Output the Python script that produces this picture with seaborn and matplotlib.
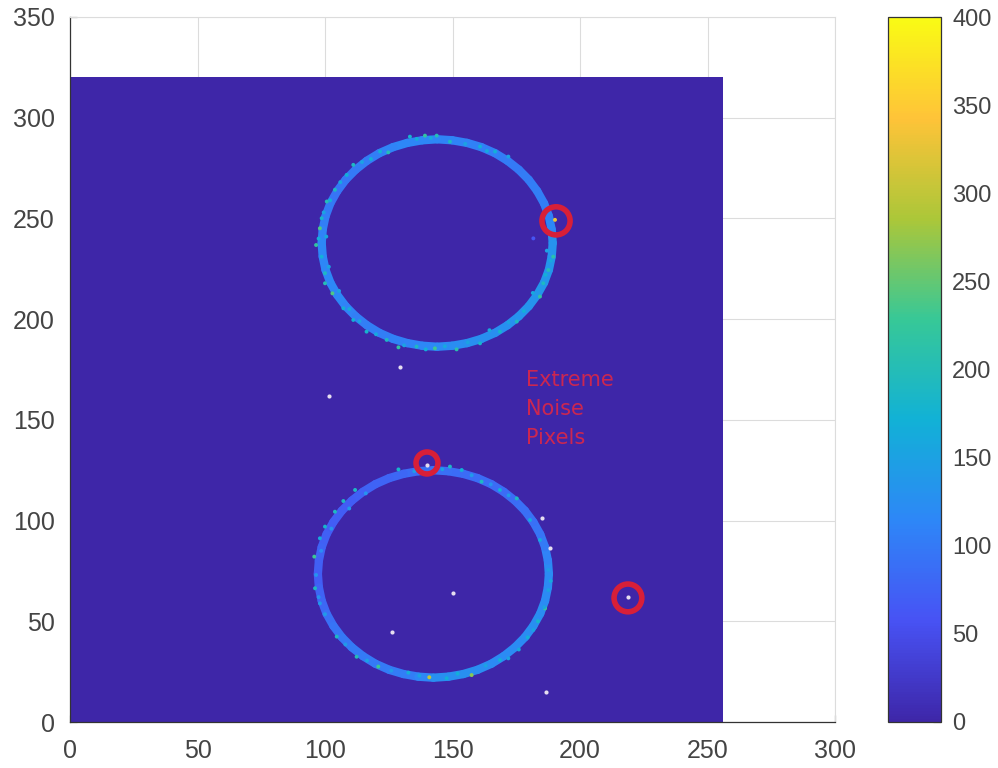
import numpy as np
import pandas as pd
import seaborn as sns
import matplotlib.pyplot as plt
from matplotlib.colors import LinearSegmentedColormap

# image size (columns, rows) and the axis ticks
image_cols = 256
image_rows = 320
x_ticks = [0, 50, 100, 150, 200, 250, 300]
y_ticks = [0, 50, 100, 150, 200, 250, 300, 350]
bar_ticks = [0, 50, 100, 150, 200, 250, 300, 350, 400]

# ring outlines, going anticlockwise from the right side
top_ring_x = [189.3, 188.9, 187.8, 185.9, 183.2, 179.9, 176.0, 171.6, 166.7, 161.3, 155.7, 149.9,
              144.0, 138.1, 132.3, 126.7, 121.3, 116.4, 112.0, 108.1, 104.8, 102.1, 100.2, 99.1,
              98.7, 99.1, 100.2, 102.1, 104.8, 108.1, 112.0, 116.4, 121.3, 126.7, 132.3, 138.1,
              144.0, 149.9, 155.7, 161.3, 166.7, 171.6, 176.0, 179.9, 183.2, 185.9, 187.8, 188.9]
top_ring_y = [237.8, 244.5, 251.1, 257.5, 263.6, 269.2, 274.2, 278.6, 282.4, 285.4, 287.5, 288.8,
              289.3, 288.8, 287.5, 285.4, 282.4, 278.6, 274.2, 269.2, 263.6, 257.5, 251.1, 244.5,
              237.8, 231.1, 224.5, 218.1, 212.0, 206.4, 201.4, 197.0, 193.2, 190.2, 188.1, 186.8,
              186.3, 186.8, 188.1, 190.2, 193.2, 197.0, 201.4, 206.4, 212.0, 218.1, 224.5, 231.1]
top_ring_level = [125, 115, 105, 105, 105, 102, 100, 102, 105, 108, 110, 112,
                  115, 115, 115, 110, 105, 102, 100, 98, 95, 100, 105, 110,
                  115, 115, 115, 115, 115, 110, 105, 105, 105, 108, 110, 115,
                  120, 122, 125, 125, 125, 128, 130, 132, 135, 135, 135, 130]

bottom_ring_x = [187.8, 187.4, 186.3, 184.4, 181.7, 178.4, 174.5, 170.1, 165.2, 159.8, 154.2, 148.4,
                 142.5, 136.6, 130.8, 125.2, 119.8, 114.9, 110.5, 106.6, 103.3, 100.6, 98.7, 97.6,
                 97.2, 97.6, 98.7, 100.6, 103.3, 106.6, 110.5, 114.9, 119.8, 125.2, 130.8, 136.6,
                 142.5, 148.4, 154.2, 159.8, 165.2, 170.1, 174.5, 178.4, 181.7, 184.4, 186.3, 187.4]
bottom_ring_y = [73.5, 80.2, 86.8, 93.2, 99.3, 104.9, 109.9, 114.3, 118.1, 121.1, 123.2, 124.5,
                 125.0, 124.5, 123.2, 121.1, 118.1, 114.3, 109.9, 104.9, 99.3, 93.2, 86.8, 80.2,
                 73.5, 66.8, 60.2, 53.8, 47.7, 42.1, 37.1, 32.7, 28.9, 25.9, 23.8, 22.5,
                 22.0, 22.5, 23.8, 25.9, 28.9, 32.7, 37.1, 42.1, 47.7, 53.8, 60.2, 66.8]
bottom_ring_level = [120, 110, 100, 95, 90, 88, 85, 85, 85, 85, 85, 88,
                     90, 85, 80, 78, 75, 72, 70, 70, 70, 72, 75, 72,
                     70, 75, 80, 88, 95, 98, 100, 100, 100, 102, 105, 115,
                     125, 125, 125, 122, 120, 120, 120, 122, 125, 122, 120, 120]

# brighter pixels sitting on the rings
fleck_x = [133.3, 139.2, 143.8, 149.0, 160.8, 166.7, 171.9, 121.6, 124.8, 111.1, 108.5, 103.9,
           100.7, 98.7, 98.0, 96.5, 98.7, 100.0, 100.0, 102.9, 107.2, 111.1, 116.3, 124.2,
           128.8, 135.9, 143.1, 151.6, 160.8, 168.6, 175.2, 184.3, 185.6, 187.6, 189.5, 190.2,
           128.8, 149.0, 153.6, 161.4, 168.6, 175.2, 111.8, 107.2, 103.9, 100.0, 98.0, 95.8,
           96.1, 98.0, 104.6, 112.4, 120.9, 132.7, 140.9, 147.7, 157.5, 168.6, 171.9, 181.7,
           186.3, 187.6, 187.6, 180.4, 184.3, 181.7,
           136.0, 141.5, 155.0, 163.5, 118.0, 114.5, 106.0, 102.0, 99.5, 100.5, 97.5, 101.5,
           105.5, 109.5, 113.5, 120.0, 131.0, 139.5, 147.0, 156.0, 164.5, 172.0, 178.0, 181.5,
           186.5, 188.5, 187.0,
           135.0, 146.0, 157.5, 165.0, 172.0, 116.0, 109.5, 102.5, 98.5, 96.5, 97.5, 100.0,
           108.0, 116.5, 126.0, 137.0, 152.0, 163.0, 176.0, 179.5, 183.5, 186.0, 188.5]
fleck_y = [290.6, 291.1, 291.1, 288.1, 285.7, 283.2, 280.7, 283.2, 282.8, 276.6, 271.6, 264.2,
           258.4, 250.1, 245.1, 236.8, 231.0, 222.8, 217.8, 212.8, 205.4, 199.6, 193.8, 189.7,
           186.0, 186.4, 185.5, 185.0, 188.0, 193.8, 198.8, 211.2, 217.8, 224.4, 231.0, 249.3,
           125.4, 126.8, 125.1, 119.3, 115.2, 111.0, 115.2, 109.7, 104.4, 97.0, 91.2, 82.1,
           66.4, 58.9, 42.4, 32.4, 27.5, 24.5, 22.2, 21.7, 23.3, 30.8, 31.6, 45.7,
           56.4, 65.5, 75.5, 100.3, 90.4, 240.1,
           289.5, 290.0, 287.0, 283.5, 279.5, 278.0, 268.0, 259.0, 253.0, 241.0, 240.0, 226.0,
           214.0, 205.0, 199.0, 192.5, 187.0, 185.0, 186.5, 188.5, 194.5, 198.5, 204.0, 213.0,
           222.0, 229.0, 234.0,
           124.5, 125.5, 122.5, 118.0, 112.5, 113.5, 106.0, 96.0, 85.0, 73.0, 62.0, 53.5,
           38.5, 30.5, 25.5, 23.0, 24.0, 28.0, 36.0, 42.0, 50.0, 57.0, 70.0]
fleck_value = [180, 220, 200, 190, 170, 170, 150, 170, 200, 190, 170, 190,
               200, 180, 240, 220, 170, 190, 200, 240, 170, 170, 180, 190,
               220, 190, 230, 210, 180, 180, 190, 220, 190, 200, 210, 330,
               180, 190, 170, 190, 170, 190, 190, 190, 190, 180, 160, 230,
               190, 140, 190, 200, 230, 170, 300, 170, 270, 170, 150, 150,
               230, 150, 140, 160, 160, 60,
               170, 160, 150, 160, 170, 150, 160, 170, 150, 160, 170, 150,
               150, 160, 150, 160, 150, 170, 160, 150, 160, 150, 170, 160,
               170, 160, 150,
               140, 150, 140, 130, 140, 130, 140, 130, 120, 130, 130, 140,
               140, 150, 140, 150, 170, 150, 160, 170, 180, 150, 160]

# isolated pale pixels
noise_x = [129.4, 101.6, 150.1, 126.1, 186.7, 218.9, 139.9, 185.0, 188.2]
noise_y = [176.4, 161.9, 64.2, 44.5, 14.7, 61.9, 127.6, 101.1, 86.2]

# red circles around the extreme pixels
circle_x = [190.6, 140.0, 218.8]
circle_y = [248.8, 128.6, 61.6]

note_lines = ["Extreme", "Noise", "Pixels"]

parula = LinearSegmentedColormap.from_list("parula", [
    (0.2422, 0.1504, 0.6603), (0.2810, 0.3228, 0.9579), (0.1786, 0.5289, 0.9682),
    (0.0689, 0.6948, 0.8394), (0.2161, 0.7843, 0.5923), (0.6720, 0.7793, 0.2227),
    (0.9970, 0.7659, 0.2199), (0.9769, 0.9839, 0.0805)])


def ring_segments(xs, ys):
    rows = []
    for i in range(len(xs)):
        j = (i + 1) % len(xs)
        rows.append({"x": xs[i], "y": ys[i], "segment": i})
        rows.append({"x": xs[j], "y": ys[j], "segment": i})
    return pd.DataFrame(rows)


def plot_ring(ax, xs, ys, levels):
    sns.lineplot(
        data=ring_segments(xs, ys),
        x="x",
        y="y",
        hue="segment",
        palette=[parula(v / 400) for v in levels],
        sort=False,
        estimator=None,
        legend=False,
        linewidth=6.0,
        solid_capstyle="round",
        ax=ax,
    )


sns.set_theme(style="white")
plt.rcParams["font.family"] = ["Liberation Sans", "DejaVu Sans"]

fig = plt.figure(figsize=(9.98, 7.68), dpi=100, facecolor="white")
ax = fig.add_axes([70 / 998, 46 / 768, 765 / 998, 705 / 768])
cax = fig.add_axes([888 / 998, 46 / 768, 53 / 998, 705 / 768])

sns.heatmap(
    np.zeros((image_rows, image_cols)),
    cmap=parula,
    vmin=0,
    vmax=400,
    ax=ax,
    cbar_ax=cax,
    xticklabels=False,
    yticklabels=False,
    rasterized=True,
)

plot_ring(ax, top_ring_x, top_ring_y, top_ring_level)
plot_ring(ax, bottom_ring_x, bottom_ring_y, bottom_ring_level)

# scatter collections sit under lines by default, so lift them above the rings
sns.scatterplot(
    x=fleck_x, y=fleck_y, hue=fleck_value, palette=parula, hue_norm=(0, 400),
    s=8, linewidth=0, legend=False, zorder=3, ax=ax,
)
sns.scatterplot(x=noise_x, y=noise_y, color="#e6def0", s=9, linewidth=0, zorder=3, ax=ax)
sns.scatterplot(
    x=circle_x, y=circle_y, s=[410, 250, 400], facecolor="none", edgecolor="#d81f38",
    linewidth=4.0, zorder=4, ax=ax,
)

for line, note_y in zip(note_lines, [170, 155.5, 141]):
    ax.text(179, note_y, line, color="#cc2650", fontsize=15, va="center",
            family="DejaVu Sans")

ax.set_xlim(0, 300)
ax.set_ylim(0, 350)
ax.set_xticks(x_ticks)
ax.set_yticks(y_ticks)
ax.set_xticklabels(x_ticks, rotation=0)
ax.set_yticklabels(y_ticks, rotation=0)
ax.set_xlabel("")
ax.set_ylabel("")
ax.set_axisbelow(True)
ax.grid(True, color="#dcdcdc", linewidth=0.8)
ax.tick_params(direction="in", length=5, width=0.8, color="#333333", labelcolor="#444444",
               labelsize=18, bottom=True, left=True)
ax.tick_params(axis="x", pad=12)
ax.tick_params(axis="y", pad=11)
for side in ["left", "bottom"]:
    ax.spines[side].set_visible(True)
    ax.spines[side].set_color("#333333")
    ax.spines[side].set_linewidth(0.9)
for side in ["top", "right"]:
    ax.spines[side].set_visible(True)
    ax.spines[side].set_color("#dcdcdc")
    ax.spines[side].set_linewidth(0.8)

cbar = ax.collections[0].colorbar
cbar.set_ticks(bar_ticks)
cbar.set_ticklabels(bar_ticks)
cbar.ax.tick_params(direction="in", length=6, width=0.8, color="#333333", labelcolor="#444444",
                    labelsize=17, right=True, pad=8)
cbar.outline.set_visible(True)
cbar.outline.set_edgecolor("#333333")
cbar.outline.set_linewidth(0.9)

fig.savefig("out.png", dpi=100, facecolor="white")
